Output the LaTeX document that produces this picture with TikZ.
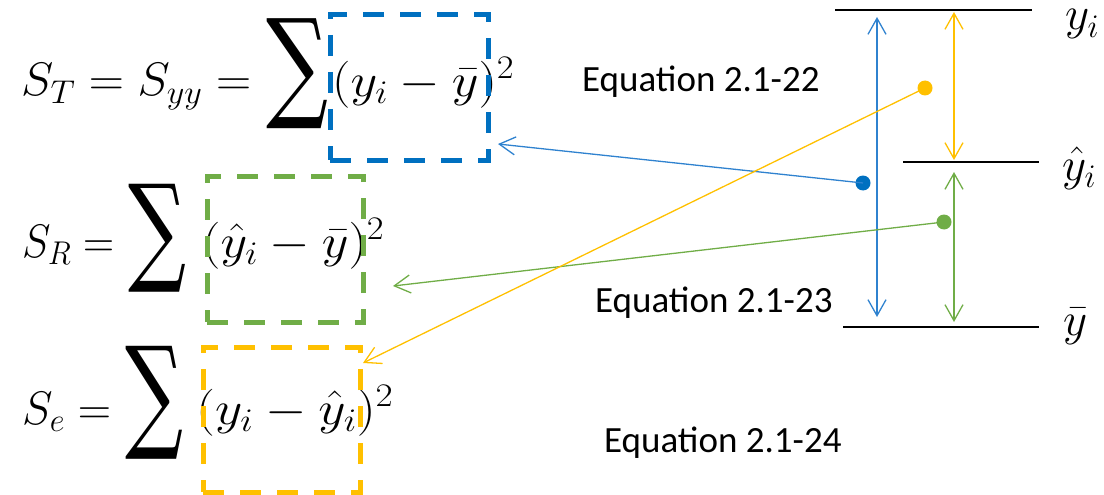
\RequirePackage{fix-cm}
\documentclass[tikz,border=0pt]{standalone}
\usepackage{fontspec}
\newfontfamily\calib{Carlito}
\newfontfamily\symf{DejaVu Serif}
\usepackage{graphicx}
\usetikzlibrary{arrows.meta}
\definecolor{cblue}{HTML}{0070C0}
\definecolor{lblue}{HTML}{2F82CF}
\definecolor{cyel}{HTML}{FFC000}
\definecolor{cgreen}{HTML}{70AD47}
\tikzset{
  mth/.style={inner sep=0pt, anchor=base west, font=\fontsize{47}{56}\selectfont},
  sumnode/.style={inner sep=0pt, anchor=south west, font=\symf\fontsize{47}{56}\selectfont},
  eqlabel/.style={inner sep=0pt, anchor=base west, font=\calib\fontsize{37}{44}\selectfont},
  dashbox/.style={draw, line width=5pt, dash pattern=on 21pt off 16pt, inner sep=0pt},
  pdot/.style={circle, fill, inner sep=0pt, minimum size=15pt},
  conn/.style={line width=1.3pt, -{Straight Barb[length=16pt,width=18pt]}},
  dbl/.style={line width=1.3pt, {Straight Barb[length=16pt,width=18pt]}-{Straight Barb[length=16pt,width=18pt]}},
  hline/.style={line width=1.4pt, black},
}
\begin{document}
\begin{tikzpicture}[x=1pt,y=-1pt]
\useasboundingbox (0,0) rectangle (1104,495);
% equations
\node[mth] (tl) at (21,96) {\resizebox{230pt}{\height}{$S_T=S_{yy}=$}};
\node[sumnode] (ts) at (266,129) {\resizebox*{62pt}{110pt}{∑}};
\node[mth] (tr) at (332,96) {\resizebox{182pt}{\height}{$(y_i-\bar{y})^2$}};

\node[mth] (rl) at (22,257) {\resizebox{92pt}{\height}{$S_R=$}};
\node[sumnode] (rs) at (128,292) {\resizebox*{58pt}{108pt}{∑}};
\node[mth] (rr) at (202,257) {\resizebox{182pt}{\height}{$(\hat{y}_i-\bar{y})^2$}};

\node[mth] (el) at (22,424) {\resizebox{89pt}{\height}{$S_e=$}};
\node[sumnode] (es) at (125,459) {\resizebox*{58pt}{113pt}{∑}};
\node[mth] (er) at (196,424) {\resizebox{197pt}{\height}{$(y_i-\hat{y}_i)^2$}};

% dashed boxes
\node[dashbox, cblue, minimum width=158pt, minimum height=145pt] (bbox) at (409,87.5) {};
\node[dashbox, cgreen, minimum width=156pt, minimum height=146pt] (gbox) at (285,249) {};
\node[dashbox, cyel, minimum width=157pt, minimum height=145pt] (ybox) at (281.5,419.5) {};

% equation labels
\node[eqlabel] (e22) at (582,92) {Equation 2.1-22};
\node[eqlabel] (e23) at (595,312) {Equation 2.1-23};
\node[eqlabel] (e24) at (604,452) {Equation 2.1-24};

% levels
\coordinate (t1) at (835,10); \coordinate (t2) at (1032,10);
\coordinate (m1) at (903,162); \coordinate (m2) at (1039,162);
\coordinate (b1) at (843,327); \coordinate (b2) at (1039,327);
\draw[hline] (t1) -- (t2);
\draw[hline] (m1) -- (m2);
\draw[hline] (b1) -- (b2);
\node[mth] (lyi) at (1065,30) {$y_i$};
\node[mth] (lyh) at (1062,180) {$\hat{y}_i$};
\node[mth] (lyb) at (1063,335) {$\bar{y}$};

% vertical double arrows
\coordinate (va1) at (877,17); \coordinate (va2) at (877,317);
\coordinate (vy1) at (954,12); \coordinate (vy2) at (954,160);
\coordinate (vg1) at (954,172); \coordinate (vg2) at (954,322);
\draw[dbl, lblue] (va1) -- (va2);
\draw[dbl, cyel] (vy1) -- (vy2);
\draw[dbl, cgreen] (vg1) -- (vg2);

% dots and connectors
\node[pdot, cyel] (ydot) at (925,88) {};
\node[pdot, cblue] (bdot) at (863,183) {};
\node[pdot, cgreen] (gdot) at (944,222) {};
\coordinate (btip) at (498,144);
\coordinate (gtip) at (393,286);
\coordinate (ytip) at (363,363);
\draw[conn, lblue] (bdot.center) -- (btip);
\draw[conn, cgreen] (gdot.center) -- (gtip);
\draw[conn, cyel] (ydot.center) -- (ytip);
\end{tikzpicture}
\end{document}
